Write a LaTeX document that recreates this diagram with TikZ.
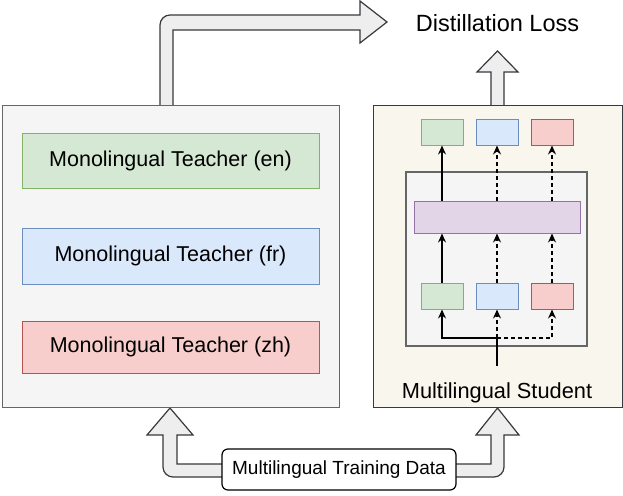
\documentclass[tikz,border=0pt]{standalone}
\usepackage{fontspec}
\setmainfont{Liberation Sans}
\usetikzlibrary{arrows.meta}
\definecolor{gfill}{HTML}{D5E8D4}\definecolor{gdraw}{HTML}{82B366}
\definecolor{bfill}{HTML}{DAE8FC}\definecolor{bdraw}{HTML}{6C8EBF}
\definecolor{rfill}{HTML}{F8CECC}\definecolor{rdraw}{HTML}{B85450}
\definecolor{pfill}{HTML}{E1D5E7}\definecolor{pdraw}{HTML}{9673A6}
\definecolor{grayfill}{HTML}{F5F5F5}\definecolor{graydraw}{HTML}{666666}
\definecolor{creamfill}{HTML}{F9F7ED}\definecolor{darkdraw}{HTML}{36393D}
\definecolor{arrfill}{HTML}{EEEEEE}
\tikzset{
  box/.style={draw, line width=1pt, inner sep=0pt, minimum width=#1},
  tbox/.style={box=297pt, font=\fontsize{21.5}{24}\selectfont},
  sbox/.style={box=42pt, minimum height=26pt},
  bigarrow/.style={draw=darkdraw, fill=arrfill, line width=1.2pt, line join=miter},
  flow/.style={draw=black, line width=1.3pt, -{Stealth[length=9pt,width=8pt,inset=3pt]}},
  dflow/.style={flow, dash pattern=on 4pt off 3pt},
}
\begin{document}
\begin{tikzpicture}[x=1pt,y=-1pt]
\useasboundingbox (0,0) rectangle (623,495);
% big arrows
\draw[bigarrow] (160,106) -- (160,25) .. controls (160,19.48) and (164.48,15) .. (170,15) -- (360,15) -- (360,1) -- (387,22) -- (360,43) -- (360,30) -- (173,30) -- (173,106) -- cycle;
\draw[bigarrow] (491,106) -- (491,72) -- (477,72) -- (497.5,51) -- (518,72) -- (504,72) -- (504,106) -- cycle;
\draw[bigarrow] (224,464) -- (177,464) -- (177,435) -- (193,435) -- (170,408) -- (147,435) -- (163,435) -- (163,467) .. controls (163,472.52) and (167.48,477) .. (173,477) -- (224,477) -- cycle;
\draw[bigarrow] (454,464) -- (491,464) -- (491,435) -- (476,435) -- (497.5,408) -- (519,435) -- (504,435) -- (504,467) .. controls (504,472.52) and (499.52,477) .. (494,477) -- (454,477) -- cycle;
% left box
\node[box=337pt, minimum height=302pt, fill=grayfill, draw=graydraw] (teachers) at (170.5,256) {};
\node[tbox, minimum height=55pt, fill=gfill, draw=gdraw] (ten) at (170.5,160.5) {Monolingual Teacher (en)};
\node[tbox, minimum height=56pt, fill=bfill, draw=bdraw] (tfr) at (170.5,256) {Monolingual Teacher (fr)};
\node[tbox, minimum height=52pt, fill=rfill, draw=rdraw] (tzh) at (170.5,347) {Monolingual Teacher (zh)};
% right box
\node[box=249pt, minimum height=302pt, fill=creamfill, draw=darkdraw] (student) at (497.5,256) {};
\node[box=181pt, minimum height=174pt, fill=grayfill, draw=graydraw, line width=2.6pt] (model) at (496.5,259) {};
\node[box=166pt, minimum height=32pt, fill=pfill, draw=pdraw] (bar) at (497,217) {};
\node[sbox, fill=gfill, draw=gdraw] (o1) at (442,132) {};
\node[sbox, fill=bfill, draw=bdraw] (o2) at (497,132) {};
\node[sbox, fill=rfill, draw=rdraw] (o3) at (552,132) {};
\node[sbox, fill=gfill, draw=gdraw] (i1) at (442,296) {};
\node[sbox, fill=bfill, draw=bdraw] (i2) at (497,296) {};
\node[sbox, fill=rfill, draw=rdraw] (i3) at (552,296) {};
\node[font=\fontsize{21.8}{24}\selectfont, anchor=base] (stlabel) at (497,398) {Multilingual Student};
% inner arrows
\draw[flow] (i1.north) -- (i1.north |- bar.south);
\draw[dflow] (i2.north) -- (i2.north |- bar.south);
\draw[dflow] (i3.north) -- (i3.north |- bar.south);
\draw[flow] (bar.north -| o1) -- (o1.south);
\draw[dflow] (bar.north -| o2) -- (o2.south);
\draw[dflow] (bar.north -| o3) -- (o3.south);
\coordinate (src) at (497,366);
\coordinate (split) at (497,338);
\draw[line width=1.3pt] (src) -- (split);
\draw[flow] (split) -| (i1.south);
\draw[dflow] (split) -- (i2.south);
\draw[dflow] (split) -| (i3.south);
% labels
\node[font=\fontsize{23.5}{26}\selectfont, anchor=base] (loss) at (497.5,32) {Distillation Loss};
\node[draw=black, line width=1.2pt, fill=white, rounded corners=6pt, minimum width=234pt, minimum height=41pt, font=\fontsize{19}{22}\selectfont] (data) at (339,469.5) {Multilingual Training Data};
\end{tikzpicture}
\end{document}
